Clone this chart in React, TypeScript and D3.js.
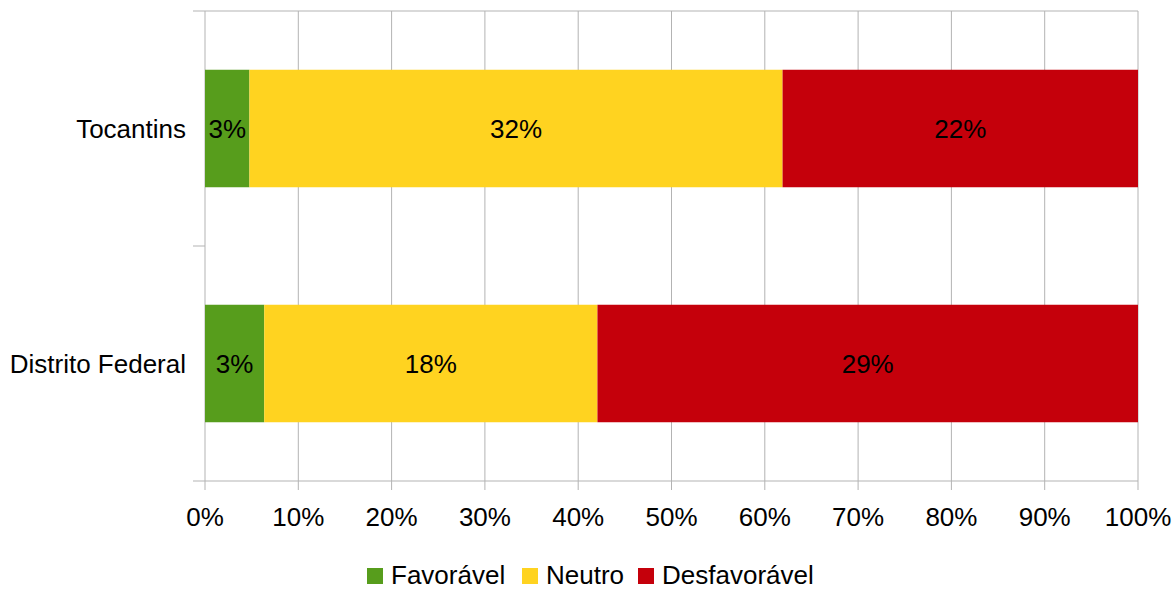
import React from "react";
import * as d3 from "d3";

const categories = ["Tocantins", "Distrito Federal"];
const seriesNames = ["Favorável", "Neutro", "Desfavorável"];
const favoravel = [2.7, 3.2];
const neutro = [32.4, 18.0];
const desfavoravel = [21.6, 29.2];
const colors = ["#579d1c", "#ffd320", "#c5000b"];
const xTicks = [0, 0.1, 0.2, 0.3, 0.4, 0.5, 0.6, 0.7, 0.8, 0.9, 1];

export default function App() {
  const W = 1174, H = 591;
  const left = 205, right = 1138, top = 11, bottom = 481;
  const x = d3.scaleLinear().domain([0, 1]).range([left, right]);
  const y = d3.scaleBand().domain(categories).range([top, bottom]).paddingInner(0.5).paddingOuter(0.25);
  const font = "Liberation Sans, Arial, sans-serif";
  const fs = 26;

  const rows = categories.map((c, i) => {
    const vals = [favoravel[i], neutro[i], desfavoravel[i]];
    const total = d3.sum(vals);
    let cum = 0;
    return vals.map((v, k) => {
      const x0 = cum / total;
      cum += v;
      const x1 = cum / total;
      return { c, k, v, x0, x1 };
    });
  });

  const legendItems = seriesNames.map((n, k) => ({ n, k }));
  const legendX = [367, 522, 638];

  return (
    <svg width={W} height={H} style={{ position: "absolute", left: 0, top: 0 }} fontFamily={font}>
      <rect width={W} height={H} fill="#fff" />
      {xTicks.map((t) => (
        <line key={"g" + t} x1={x(t)} x2={x(t)} y1={top} y2={bottom + 9} stroke="#b3b3b3" strokeWidth={1} />
      ))}
      <line x1={left} x2={right} y1={top} y2={top} stroke="#b3b3b3" />
      <line x1={left - 12} x2={right} y1={bottom} y2={bottom} stroke="#b3b3b3" />
      <line x1={left - 12} x2={left} y1={top} y2={top} stroke="#b3b3b3" />
      <line x1={left - 12} x2={left} y1={(top + bottom) / 2} y2={(top + bottom) / 2} stroke="#b3b3b3" />
      {rows.map((r) =>
        r.map((s) => (
          <g key={s.c + s.k}>
            <rect x={x(s.x0)} y={y(s.c)!} width={x(s.x1) - x(s.x0)} height={y.bandwidth()} fill={colors[s.k]} />
            <text
              x={(x(s.x0) + x(s.x1)) / 2}
              y={y(s.c)! + y.bandwidth() / 2}
              textAnchor="middle"
              dominantBaseline="central"
              fontSize={fs}
              fill="#000"
            >
              {Math.round(s.v) + "%"}
            </text>
          </g>
        ))
      )}
      {categories.map((c) => (
        <text key={c} x={186} y={y(c)! + y.bandwidth() / 2} textAnchor="end" dominantBaseline="central" fontSize={fs} fill="#000">
          {c}
        </text>
      ))}
      {xTicks.map((t) => (
        <text key={"t" + t} x={x(t)} y={517} textAnchor="middle" dominantBaseline="central" fontSize={fs} fill="#000">
          {Math.round(t * 100) + "%"}
        </text>
      ))}
      {legendItems.map((l) => (
        <g key={l.n}>
          <rect x={legendX[l.k]} y={568} width={16} height={16} fill={colors[l.k]} />
          <text x={legendX[l.k] + 24} y={575} dominantBaseline="central" fontSize={fs} fill="#000">
            {l.n}
          </text>
        </g>
      ))}
    </svg>
  );
}
